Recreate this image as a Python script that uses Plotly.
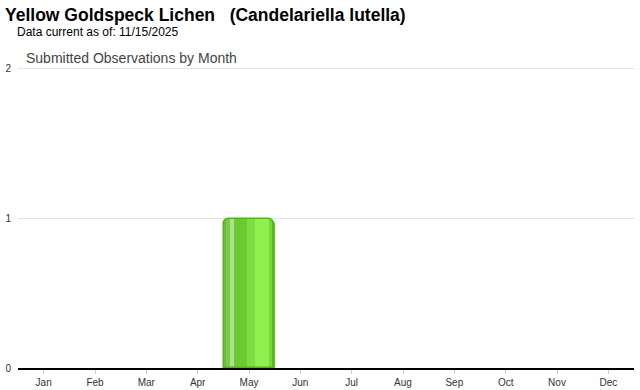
import plotly.graph_objects as go

months = ["Jan", "Feb", "Mar", "Apr", "May", "Jun", "Jul", "Aug", "Sep", "Oct", "Nov", "Dec"]
counts = [0, 0, 0, 0, 1, 0, 0, 0, 0, 0, 0, 0]
y_ticks = [0, 1, 2]

title = "Yellow Goldspeck Lichen   (Candelariella lutella)"
subtitle = "Data current as of: 11/15/2025"
chart_title = "Submitted Observations by Month"

# only draw non-zero bars
vals = [c if c > 0 else None for c in counts]

fig = go.Figure()
# base bar
fig.add_trace(go.Bar(x=months, y=vals, width=1.0,
                     marker=dict(color="#66C030", line=dict(width=0), cornerradius=6),
                     hoverinfo="x+y"))
# gradient stripes (offset, width, color) in category units
stripes = [
    (-0.44, 0.07, "#7ACB48"),
    (-0.37, 0.07, "#B2DE90"),
    (-0.30, 0.26, "#6ACB30"),
    (-0.04, 0.16, "#7EDD40"),
    (0.12, 0.26, "#8FF14F"),
    (0.38, 0.06, "#78D638"),
]
for off, w, col in stripes:
    fig.add_trace(go.Bar(x=months, y=vals, width=w, offset=off,
                         marker=dict(color=col, line=dict(width=0)),
                         hoverinfo="skip"))
# outline
fig.add_trace(go.Bar(x=months, y=vals, width=0.99,
                     marker=dict(color="rgba(0,0,0,0)", line=dict(color="#58B01E", width=1.5),
                                 cornerradius=6),
                     hoverinfo="skip"))

ML, MR, MT, MB = 18, 6, 66, 22
pw = 640 - ML - MR
ph = 390 - MT - MB


def ann(text, px, py, size, color, bold=False):
    return dict(text=("<b>" + text + "</b>") if bold else text,
                x=(px - ML) / pw, y=(390 - MB - py) / ph,
                xref="paper", yref="paper", showarrow=False,
                xanchor="left", yanchor="middle",
                font=dict(size=size, color=color, family="Arial, Liberation Sans"))


fig.update_layout(
    width=640, height=390,
    barmode="overlay", bargap=0,
    showlegend=False,
    plot_bgcolor="white", paper_bgcolor="white",
    margin=dict(l=ML, r=MR, t=MT, b=MB),
    font=dict(family="Arial, Liberation Sans", color="#333"),
    xaxis=dict(type="category", categoryorder="array", categoryarray=months,
               range=[-0.5, 11.5], automargin=False,
               showgrid=False, showline=True, linecolor="black", linewidth=2,
               ticks="outside", ticklen=4, tickcolor="#ccc",
               tickfont=dict(size=10, color="#333"), fixedrange=True),
    yaxis=dict(range=[0, 2.02], tickvals=y_ticks, showgrid=True, gridcolor="#e4e4e4",
               automargin=False,
               zeroline=False, ticks="", tickfont=dict(size=10, color="#333"),
               ticklabelstandoff=6, fixedrange=True),
    annotations=[
        ann(title, 3, 15, 17.5, "black", bold=True),
        ann(subtitle, 15, 32, 12, "black"),
        ann(chart_title, 24, 58, 14, "#444"),
    ],
)

fig.write_html("out.html")
